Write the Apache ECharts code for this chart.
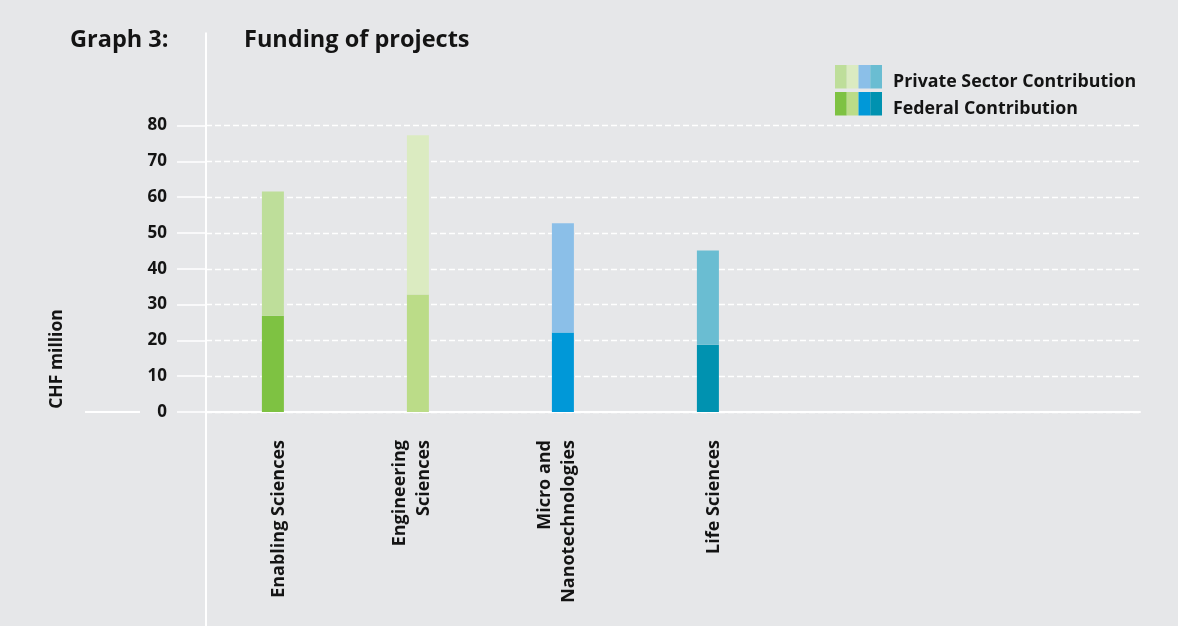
<!DOCTYPE html>
<html>
<head>
<meta charset="utf-8">
<title>Funding of projects</title>
<script src="https://cdn.jsdelivr.net/npm/echarts@6/dist/echarts.min.js"></script>
<style>
  html, body { margin: 0; padding: 0; background: #e6e7e9; }
  #chart { width: 1178px; height: 626px; }
</style>
</head>
<body>
<div id="chart"></div>
<script>
// Funding per research area, CHF million
const categories = ['Enabling Sciences', 'Engineering\nSciences', 'Micro and\nNanotechnologies', 'Life Sciences'];
const federalContribution = [26.9, 32.8, 22.2, 18.8];
const privateContribution = [34.7, 44.5, 30.5, 26.3];
const yTicks = [0, 10, 20, 30, 40, 50, 60, 70, 80];

// one shade pair per research area
const federalColors = ['#7ec242', '#bbdc88', '#0098d8', '#0092b0'];
const privateColors = ['#bede9a', '#dbebc1', '#8bbfe8', '#6abdd2'];

const FONT = '"Open Sans", "DejaVu Sans", sans-serif';
const INK = '#141414';
const BG = '#e6e7e9';

const plotTop = 125.5;
const plotHeight = 286.5;
const plotBottom = 626 - plotTop - plotHeight;
const bandLeft = 200.4;
const bandWidth = 580;

const chart = echarts.init(document.getElementById('chart'), null, { renderer: 'canvas' });

const legendSwatches = [];
[privateColors, federalColors].forEach((row, r) => {
  row.forEach((c, i) => {
    legendSwatches.push({
      type: 'rect',
      shape: { x: 835 + i * 11.75, y: 65 + r * 27, width: 11.75, height: 23.5 },
      style: { fill: c },
      silent: true
    });
  });
});

const option = {
  backgroundColor: BG,
  animation: false,
  grid: [
    { left: bandLeft, width: bandWidth, top: plotTop, bottom: plotBottom, containLabel: false },
    { left: 206, right: 38, top: plotTop, bottom: plotBottom, containLabel: false },
    { left: bandLeft + 17.5, width: bandWidth, top: plotTop, bottom: plotBottom, containLabel: false }
  ],
  xAxis: [
    {
      type: 'category', gridIndex: 0, data: categories,
      axisLine: { show: false }, axisTick: { show: false }, axisLabel: { show: false }
    },
    {
      type: 'value', gridIndex: 1, min: 0, max: 1,
      axisLine: { show: true, lineStyle: { color: '#ffffff', width: 2 } },
      axisTick: { show: false }, axisLabel: { show: false }, splitLine: { show: false }
    },
    {
      type: 'category', gridIndex: 2, data: categories,
      axisLine: { show: false }, axisTick: { show: false },
      axisLabel: {
        show: true, rotate: 90, margin: 28, interval: 0,
        verticalAlign: 'bottom', lineHeight: 24,
        color: INK, fontFamily: FONT, fontWeight: 'bold', fontSize: 18
      }
    }
  ],
  yAxis: [
    { type: 'value', gridIndex: 0, min: 0, max: 80, interval: 10, show: false },
    {
      type: 'value', gridIndex: 1, min: 0, max: 80, interval: 10,
      axisLine: { show: false },
      axisTick: { show: true, inside: false, length: 29, lineStyle: { color: '#ffffff', width: 1.5 } },
      axisLabel: {
        margin: 39, color: INK, fontFamily: FONT, fontWeight: 'bold', fontSize: 17,
        formatter: v => (yTicks.includes(v) ? String(v) : '')
      },
      splitLine: { show: true, lineStyle: { color: '#ffffff', width: 1.3, type: [6, 3] } }
    },
    { type: 'value', gridIndex: 2, min: 0, max: 80, show: false }
  ],
  series: [
    {
      name: 'Federal Contribution', type: 'bar', stack: 'total',
      xAxisIndex: 0, yAxisIndex: 0, barWidth: 22, z: 3,
      data: federalContribution.map((v, i) => ({ value: v, itemStyle: { color: federalColors[i] } }))
    },
    {
      name: 'Private Sector Contribution', type: 'bar', stack: 'total',
      xAxisIndex: 0, yAxisIndex: 0, barWidth: 22, z: 3,
      data: privateContribution.map((v, i) => ({ value: v, itemStyle: { color: privateColors[i] } }))
    }
  ],
  graphic: [
    // vertical divider
    { type: 'line', shape: { x1: 206, y1: 32.5, x2: 206, y2: 626 }, style: { stroke: '#ffffff', lineWidth: 2 }, silent: true, z: 1 },
    // baseline stub left of the zero label
    { type: 'line', shape: { x1: 85, y1: 412, x2: 140, y2: 412 }, style: { stroke: '#ffffff', lineWidth: 2 }, silent: true },
    { type: 'text', x: 70, y: 40, style: { text: 'Graph 3:', font: 'bold 23.5px ' + FONT, fill: INK, verticalAlign: 'middle' }, silent: true },
    { type: 'text', x: 244, y: 40, style: { text: 'Funding of projects', font: 'bold 23.5px ' + FONT, fill: INK, verticalAlign: 'middle' }, silent: true },
    {
      type: 'text', x: 57, y: 359, rotation: Math.PI / 2,
      style: { text: 'CHF million', font: 'bold 17.5px ' + FONT, fill: INK, align: 'center', verticalAlign: 'middle' },
      silent: true
    },
    ...legendSwatches,
    { type: 'text', x: 893, y: 82, style: { text: 'Private Sector Contribution', font: 'bold 17.8px ' + FONT, fill: INK, verticalAlign: 'middle' }, silent: true },
    { type: 'text', x: 893, y: 108.5, style: { text: 'Federal Contribution', font: 'bold 17.8px ' + FONT, fill: INK, verticalAlign: 'middle' }, silent: true }
  ]
};

chart.setOption(option);
</script>
</body>
</html>
